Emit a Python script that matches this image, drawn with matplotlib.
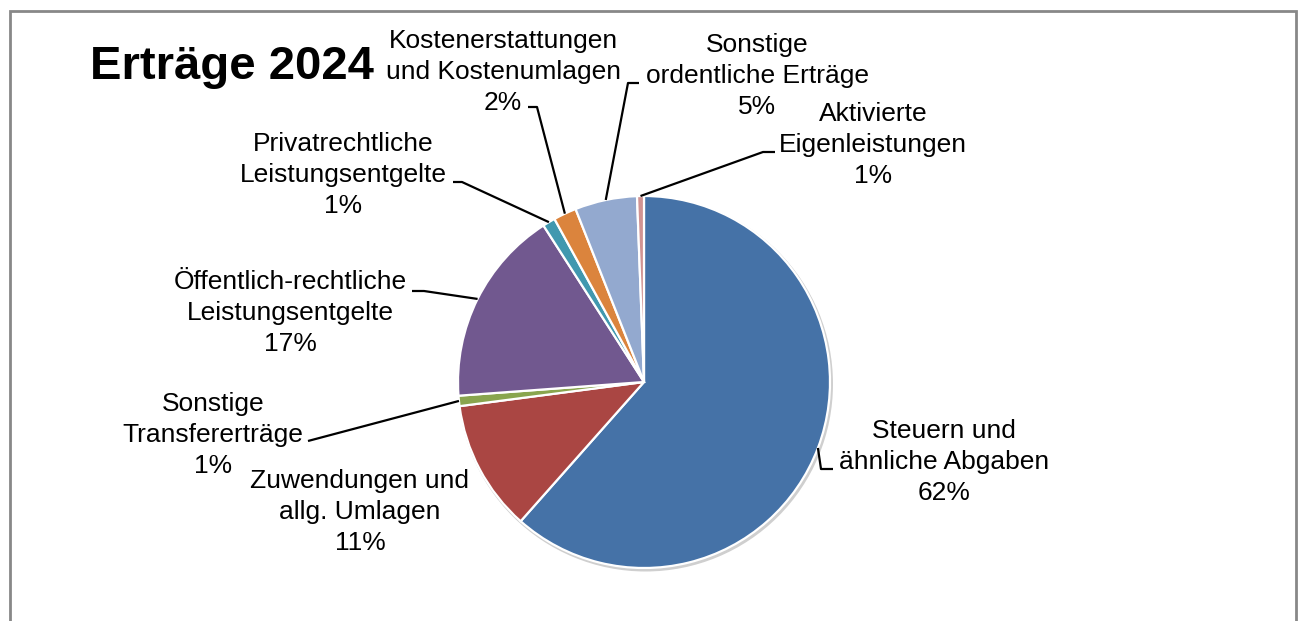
import matplotlib
matplotlib.use("Agg")
import matplotlib.pyplot as plt
from matplotlib.patches import Circle, Rectangle
import numpy as np

plt.rcParams['font.family'] = ['Liberation Sans', 'DejaVu Sans']

title = "Erträge 2024"
categories = ["Steuern und\nähnliche Abgaben",
              "Zuwendungen und\nallg. Umlagen",
              "Sonstige\nTransfererträge",
              "Öffentlich-rechtliche\nLeistungsentgelte",
              "Privatrechtliche\nLeistungsentgelte",
              "Kostenerstattungen\nund Kostenumlagen",
              "Sonstige\nordentliche Erträge",
              "Aktivierte\nEigenleistungen"]
shares = [61.6, 11.4, 0.9, 17.1, 1.1, 2.0, 5.4, 0.6]
colors = ["#4572A7", "#AA4643", "#89A54E", "#71588F", "#4198AF", "#DB843D", "#93A9CF", "#D19392"]

W, H = 1298, 621
fig = plt.figure(figsize=(W / 100, H / 100), dpi=100)
ax = fig.add_axes([0, 0, 1, 1])


def P(x, y):
    return (x, H - y)


cx, cy, R = 644, 382, 186
# shadow
ax.add_patch(Circle(P(cx + 1.5, cy + 2), R + 1.5, color="#cfcfcf", zorder=1, lw=0))
wedges, _ = ax.pie(shares, colors=colors, startangle=90, counterclock=False,
                   center=P(cx, cy), radius=R,
                   wedgeprops=dict(edgecolor="white", linewidth=1.6, zorder=2))
for w in wedges:
    w.set_zorder(2)

ax.set_xlim(0, W)
ax.set_ylim(0, H)
ax.set_aspect('equal')
ax.axis('off')

# frame
ax.add_patch(Rectangle((9.5, -5), 1286.5, H - 11 + 5, fill=False, edgecolor="#888888", lw=2, zorder=0))

ax.text(90, H - 67, title, fontsize=34, fontweight='bold', ha='left', va='center', zorder=5)

# label layout: center (px), leader polyline start points (px)
label_pos = [(944, 462), (360, 512), (213, 435), (290, 313), (343, 175), (503, 72), (757, 76), (873, 145)]
leaders = [[(833, 469), (821, 469)],
           None,
           [(308, 441)],
           [(412, 291), (424, 291)],
           [(453, 182), (462, 182)],
           [(528, 107), (537, 107)],
           [(639, 83), (628, 83)],
           [(775, 152), (763, 152)]]

for w, cat, v, (lx, ly), ld in zip(wedges, categories, shares, label_pos, leaders):
    ax.text(*P(lx, ly), f"{cat}\n{round(v)}%", fontsize=19, ha='center', va='center',
            linespacing=1.39, zorder=5)
    if ld is not None:
        mid = np.deg2rad((w.theta1 + w.theta2) / 2)
        ex = w.center[0] + R * np.cos(mid)
        ey = w.center[1] + R * np.sin(mid)
        xs = [p[0] for p in ld] + [ex]
        ys = [H - p[1] for p in ld] + [ey]
        ax.plot(xs, ys, color="black", lw=1.6, zorder=4, solid_capstyle='butt')

fig.savefig("out.png", dpi=100)
